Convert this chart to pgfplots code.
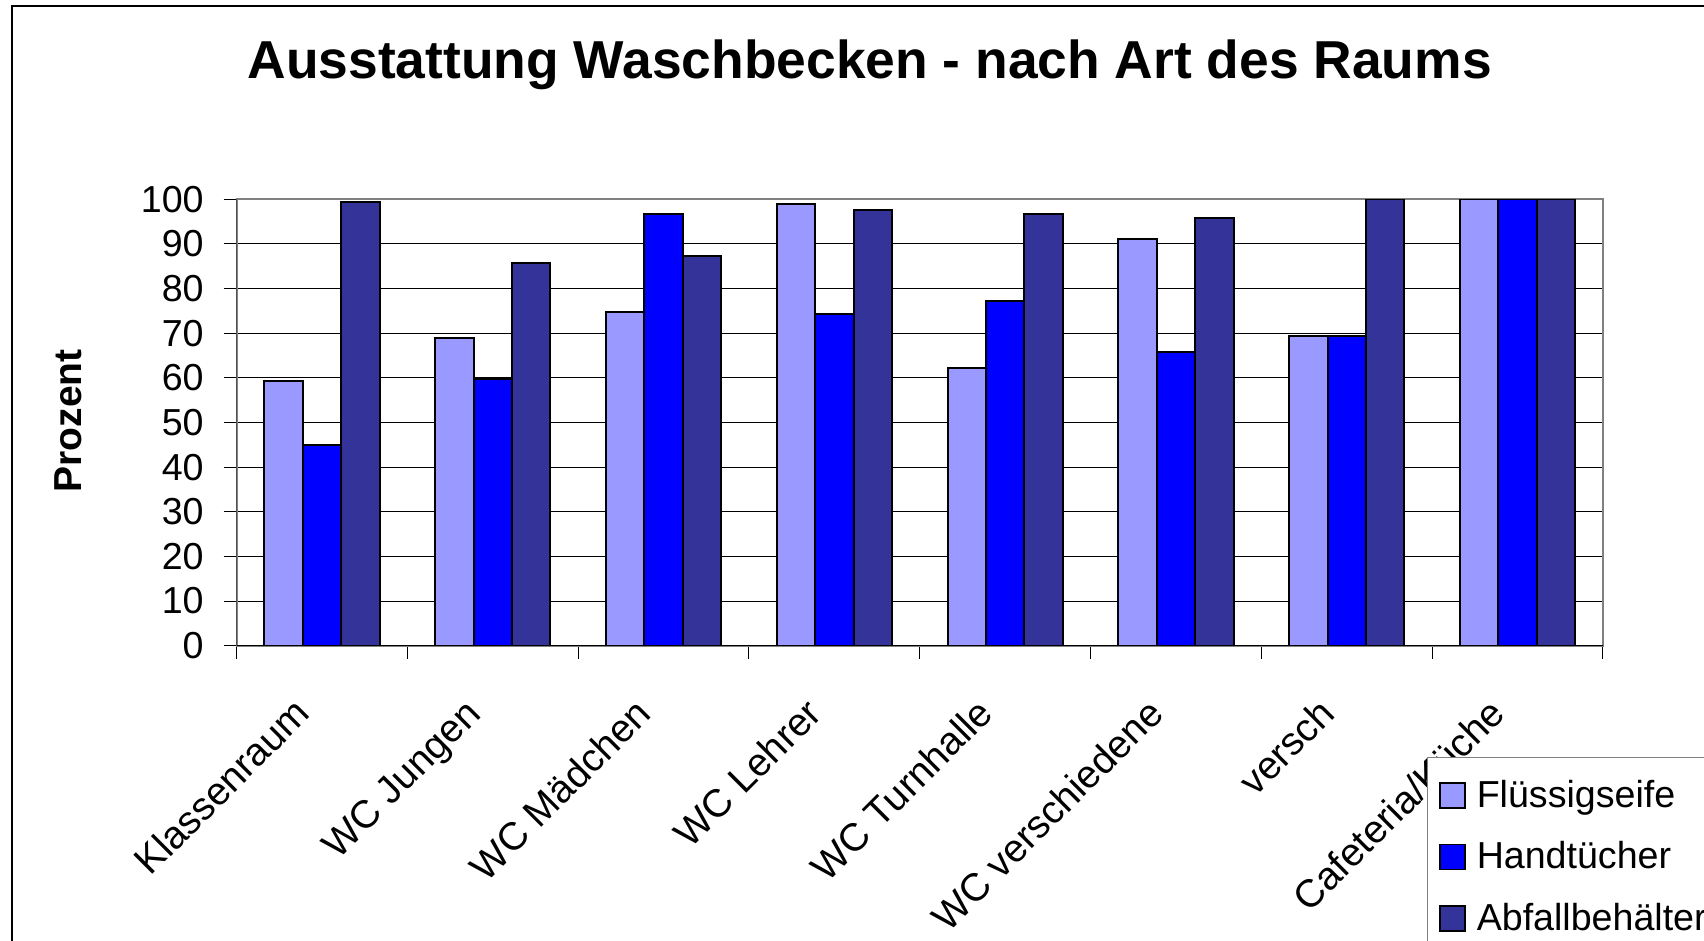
\documentclass[border=0pt]{standalone}
\usepackage{fontspec}
\setmainfont{Liberation Sans}
\usepackage{pgfplots}
\pgfplotsset{compat=1.18}

\definecolor{seife}{HTML}{9999FF}
\definecolor{tuch}{HTML}{0000FF}
\definecolor{abfall}{HTML}{333399}

\newcommand{\lblfont}{\fontsize{18.8}{22}\selectfont}

\begin{document}
\begin{tikzpicture}
\begin{axis}[
    at={(118.25pt,147.65pt)}, anchor=south west,
    width=683.25pt, height=223.2pt, scale only axis,
    ybar=0pt, bar width=19.2pt,
    xmin=-0.5, xmax=7.5, ymin=0, ymax=100,
    xtick={0,...,7},
    xticklabels={Klassenraum, WC Jungen, WC Mädchen, WC Lehrer, WC Turnhalle, WC verschiedene, versch, Cafeteria/Küche},
    minor xtick={-0.5,0.5,...,7.5},
    every major x tick/.append style={draw=none},
    ytick={0,10,...,100},
    ymajorgrids,
    grid style={black, line width=0.5pt},
    tick align=outside, xtick pos=bottom, ytick pos=left,
    major tick length=6.5pt, minor tick length=6.5pt,
    tick style={black, line width=0.5pt},
    axis line style={draw=gray, line width=1pt},
    /pgf/number format/assume math mode=true,
    yticklabel style={font=\lblfont, inner sep=0pt, xshift=-9.75pt},
    xticklabel style={font=\fontsize{19.5}{22}\selectfont, xshift=-5pt, yshift=-28.5pt, rotate=45, anchor=base east, inner sep=0pt},
    title={Ausstattung Waschbecken - nach Art des Raums},
    title style={at={(axis description cs:0.4634,1.2433)}, anchor=base, inner sep=0pt,
        font=\bfseries\fontsize{26.7}{30}\selectfont},
    ylabel={Prozent},
    ylabel style={at={(axis description cs:-0.1233,0.5034)}, anchor=center, inner sep=0pt,
        font=\bfseries\fontsize{19.5}{22}\selectfont},
    every axis plot/.append style={draw=black, line width=1pt},
    legend image code/.code={\draw[#1, draw=black, line width=0.8pt] (0pt,-6.25pt) rectangle (12.5pt,6.25pt);},
    legend style={at={(axis description cs:0.8709,-0.2486)}, anchor=north west,
        draw=gray, line width=0.8pt, fill=white, font=\lblfont,
        inner xsep=6pt, inner ysep=9.4pt, row sep=11.6pt, column sep=3.4pt,
        cells={anchor=west}},
]
\addplot[fill=seife] coordinates {(0,59.3) (1,68.9) (2,74.8) (3,98.9) (4,62.2) (5,91.0) (6,69.4) (7,100)};
\addplot[fill=tuch] coordinates {(0,44.9) (1,59.8) (2,96.6) (3,74.3) (4,77.2) (5,65.9) (6,69.4) (7,100)};
\addplot[fill=abfall] coordinates {(0,99.5) (1,85.7) (2,87.4) (3,97.7) (4,96.6) (5,95.8) (6,100) (7,100)};
\legend{Flüssigseife, Handtücher, Abfallbehälter}
\draw[black, line width=0.6pt] (rel axis cs:0,1) -- (rel axis cs:0,0) -- (rel axis cs:1,0);
\end{axis}
\draw[black, line width=0.7pt] (6pt,-40pt) rectangle (900pt,467.5pt);
\pgfresetboundingbox
\path[use as bounding box] (0,0) rectangle (852pt,470.5pt);
\end{tikzpicture}
\end{document}
